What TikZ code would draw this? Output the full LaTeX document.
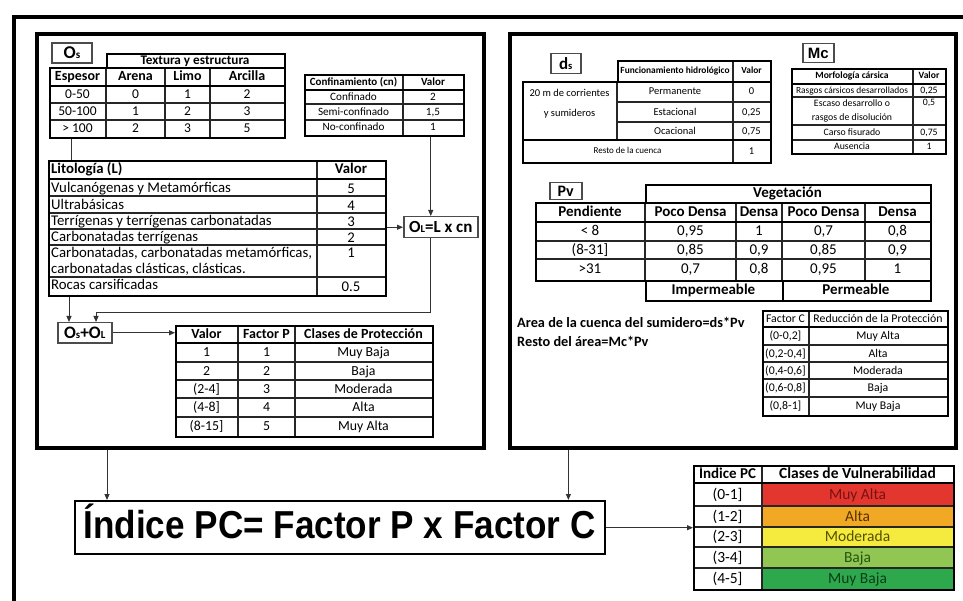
\documentclass[tikz,border=0pt]{standalone}
\usepackage{fontspec}
\setmainfont{Carlito}
\newfontfamily\arialf{Liberation Sans}
\usepackage{graphicx}
\usetikzlibrary{arrows.meta}

\definecolor{vRed}{RGB}{226,54,46}
\definecolor{vOrange}{RGB}{241,168,36}
\definecolor{vYellow}{RGB}{244,235,62}
\definecolor{vLGreen}{RGB}{145,198,82}
\definecolor{vGreen}{RGB}{46,168,76}
\definecolor{tRed}{RGB}{120,18,18}
\definecolor{tOrange}{RGB}{85,48,0}
\definecolor{tYellow}{RGB}{85,80,0}
\definecolor{tLGreen}{RGB}{35,85,20}
\definecolor{tGreen}{RGB}{10,62,25}

% font size in points (1pt = 1 unit of the picture)
\newcommand{\fsz}[1]{\fontsize{#1}{#1}\selectfont}
% small letter used as index (O_s, O_L, d_s)
\newcommand{\lsub}[1]{\scalebox{0.62}{#1}}
% invisible strut so that every cell text is centred on the same line
\newcommand{\cellstrut}{\rule[-0.25em]{0pt}{1.1em}}
% framed box given by its corners: style, name, x1, y1, x2, y2
\newcommand{\tbox}[6]{\node[#1, anchor=north west, minimum width={(#5-(#3))*1pt}, minimum height={(#6-(#4))*1pt}] (#2) at (#3,#4) {};}
% inner grid lines of the tables
\newcommand{\vln}[3]{\draw[cellline] (#1,#2) -- (#1,#3);}
\newcommand{\hln}[3]{\draw[cellline] (#2,#1) -- (#3,#1);}
\newcommand{\hlnb}[3]{\draw[hdrline] (#2,#1) -- (#3,#1);}
% text of a cell: font, name, position, text
\newcommand{\ct}[4]{\node[tcell,font=#1] (#2) at #3 {\cellstrut#4};}
\newcommand{\lt}[4]{\node[lcell,font=#1] (#2) at #3 {\cellstrut#4};}

\begin{document}
\begin{tikzpicture}[x=1pt,y=-1pt,
  tframe/.style={draw=black, line width=2.4pt, inner sep=0pt},
  cellline/.style={draw=black!85, line width=1.2pt},
  hdrline/.style={draw=black, line width=1.9pt},
  panel/.style={draw=black, line width=4pt, inner sep=0pt},
  lbl/.style={draw=black!70, line width=1.5pt, inner sep=0pt},
  tcell/.style={inner sep=0pt, anchor=center},
  lcell/.style={inner sep=0pt, anchor=west},
  conn/.style={draw=black!80, line width=1pt},
  arr/.style={conn, -{Triangle[length=6pt,width=5pt]}},
]
\useasboundingbox (0,0) rectangle (963,601);
\clip (0,0) rectangle (963,601);
\fill[white] (0,0) rectangle (963,601);

% ---------- frames ----------
\tbox{panel}{frame}{12}{15}{1010}{660}
\tbox{panel}{lpanel}{35}{32}{482}{446}
\tbox{panel}{rpanel}{508}{32}{954}{446}

% ================= LEFT PANEL =================
% O_s label
\node[lbl, minimum width=40pt, minimum height=20pt, font=\fsz{18}\bfseries] (oslbl) at (72,53) {O\lsub{s}};

% texture / thickness table
\tbox{tframe}{oshdr}{106}{53}{284}{67}
\ct{\fsz{13.2}\bfseries}{oshdrt}{(195,60.5)}{Textura y estructura}
\vln{106}{67}{137} \vln{165}{67}{137} \vln{210}{67}{137}
\hlnb{86}{49}{284} \hln{103}{49}{284} \hln{120}{49}{284}
\tbox{tframe}{ostab}{49}{67}{284}{137}
\ct{\fsz{14}\bfseries}{osh1}{(77.5,76.5)}{Espesor}
\ct{\fsz{14}\bfseries}{osh2}{(135.5,76.5)}{Arena}
\ct{\fsz{14}\bfseries}{osh3}{(187.5,76.5)}{Limo}
\ct{\fsz{14}\bfseries}{osh4}{(247,76.5)}{Arcilla}
\ct{\fsz{13.5}}{os11}{(77.5,94.5)}{0-50}
\ct{\fsz{13.5}}{os12}{(135.5,94.5)}{0}
\ct{\fsz{13.5}}{os13}{(187.5,94.5)}{1}
\ct{\fsz{13.5}}{os14}{(247,94.5)}{2}
\ct{\fsz{13.5}}{os21}{(77.5,111.5)}{50-100}
\ct{\fsz{13.5}}{os22}{(135.5,111.5)}{1}
\ct{\fsz{13.5}}{os23}{(187.5,111.5)}{2}
\ct{\fsz{13.5}}{os24}{(247,111.5)}{3}
\ct{\fsz{13.5}}{os31}{(77.5,128.5)}{> 100}
\ct{\fsz{13.5}}{os32}{(135.5,128.5)}{2}
\ct{\fsz{13.5}}{os33}{(187.5,128.5)}{3}
\ct{\fsz{13.5}}{os34}{(247,128.5)}{5}

% confinement table
\vln{403}{74}{135}
\hlnb{90}{304}{463} \hln{104}{304}{463} \hln{120}{304}{463}
\tbox{tframe}{conf}{304}{74}{463}{135}
\ct{\fsz{11}\bfseries}{cfh1}{(353.5,82)}{Confinamiento (cn)}
\ct{\fsz{11}\bfseries}{cfh2}{(433,82)}{Valor}
\ct{\fsz{11.2}}{cf11}{(353.5,97)}{Confinado}
\ct{\fsz{11.2}}{cf12}{(433,97)}{2}
\ct{\fsz{11.2}}{cf21}{(353.5,112)}{Semi-confinado}
\ct{\fsz{11.2}}{cf22}{(433,112)}{1,5}
\ct{\fsz{11.2}}{cf31}{(353.5,127.5)}{No-confinado}
\ct{\fsz{11.2}}{cf32}{(433,127.5)}{1}

% lithology table
\vln{317}{160}{295}
\hlnb{179}{48}{385} \hln{196}{48}{385} \hln{213}{48}{385}
\hln{229}{48}{385} \hln{245}{48}{385} \hln{277}{48}{385}
\tbox{tframe}{lito}{48}{160}{385}{295}
\lt{\fsz{14.8}\bfseries}{lih1}{(51,169.5)}{Litología (L)}
\ct{\fsz{14.8}\bfseries}{lih2}{(351,169.5)}{Valor}
\lt{\fsz{14.8}}{li1}{(51,188)}{Vulcanógenas y Metamórficas}
\ct{\fsz{14.8}}{lv1}{(351,189)}{5}
\lt{\fsz{14.8}}{li2}{(51,205)}{Ultrabásicas}
\ct{\fsz{14.8}}{lv2}{(351,206)}{4}
\lt{\fsz{14.8}}{li3}{(51,221.5)}{Terrígenas y terrígenas carbonatadas}
\ct{\fsz{14.8}}{lv3}{(351,222.5)}{3}
\lt{\fsz{14.8}}{li4}{(51,237.5)}{Carbonatadas terrígenas}
\ct{\fsz{14.8}}{lv4}{(351,238.5)}{2}
\lt{\fsz{14.8}}{li5a}{(51,253.5)}{Carbonatadas, carbonatadas metamórficas,}
\lt{\fsz{14.8}}{li5b}{(51,269.5)}{carbonatadas clásticas, clásticas.}
\ct{\fsz{14.8}}{lv5}{(351,253.5)}{1}
\lt{\fsz{14.8}}{li6}{(51,285.5)}{Rocas carsificadas}
\ct{\fsz{14.8}}{lv6}{(351,287)}{0.5}

% O_L box
\node[lbl, anchor=north west, minimum width=74pt, minimum height=21pt, font=\fsz{17}\bfseries] (olbox) at (403,216) {O\lsub{L}=L x cn};

% O_s + O_L box
\node[lbl, anchor=north west, minimum width=54pt, minimum height=20pt, font=\fsz{17.5}\bfseries] (ospl) at (57,322) {O\lsub{s}+O\lsub{L}};

% protection factor table
\vln{238}{325}{436} \vln{295}{325}{436}
\hlnb{343}{175}{432} \hln{362}{175}{432} \hln{380}{175}{432}
\hln{398}{175}{432} \hln{417}{175}{432}
\tbox{tframe}{ptab}{175}{325}{432}{436}
\ct{\fsz{14}\bfseries}{ph1}{(206.5,334)}{Valor}
\ct{\fsz{14}\bfseries}{ph2}{(266.5,334)}{Factor P}
\ct{\fsz{14}\bfseries}{ph3}{(363.5,334)}{Clases de Protección}
\ct{\fsz{13.8}}{pa1}{(206.5,352.5)}{1}
\ct{\fsz{13.8}}{pb1}{(266.5,352.5)}{1}
\ct{\fsz{13.8}}{pc1}{(363.5,352.5)}{Muy Baja}
\ct{\fsz{13.8}}{pa2}{(206.5,371)}{2}
\ct{\fsz{13.8}}{pb2}{(266.5,371)}{2}
\ct{\fsz{13.8}}{pc2}{(363.5,371)}{Baja}
\ct{\fsz{13.8}}{pa3}{(206.5,389)}{(2-4]}
\ct{\fsz{13.8}}{pb3}{(266.5,389)}{3}
\ct{\fsz{13.8}}{pc3}{(363.5,389)}{Moderada}
\ct{\fsz{13.8}}{pa4}{(206.5,407.5)}{(4-8]}
\ct{\fsz{13.8}}{pb4}{(266.5,407.5)}{4}
\ct{\fsz{13.8}}{pc4}{(363.5,407.5)}{Alta}
\ct{\fsz{13.8}}{pa5}{(206.5,426.5)}{(8-15]}
\ct{\fsz{13.8}}{pb5}{(266.5,426.5)}{5}
\ct{\fsz{13.8}}{pc5}{(363.5,426.5)}{Muy Alta}

% connectors of the left panel
\draw[conn] ([xshift=22pt]ostab.south west) -- ([xshift=22pt]ostab.south west |- lito.north);
\draw[arr] ([xshift=21pt]lito.south west) -- ([xshift=21pt]lito.south west |- ospl.north);
\draw[arr] (olbox.west -| lito.east) -- (olbox.west);
\draw[arr] ([xshift=-10pt]olbox.north |- conf.south) -- ([xshift=-10pt]olbox.north);
\coordinate (jn) at (96,313);
\draw[arr] ([xshift=-10pt]olbox.south) |- (jn) -- (jn |- ospl.north);
\draw[arr] (ospl.east) -- (ospl.east -| ptab.west);

% ================= RIGHT PANEL =================
% d_s label and table
\node[lbl, anchor=north west, minimum width=30pt, minimum height=20pt, font=\fsz{17}\bfseries] (dslbl) at (550,53) {d\lsub{s}};
\vln{733}{60}{81}
\tbox{tframe}{dshdr}{617}{60}{770}{81}
\ct{\fsz{9.4}\bfseries}{dsh1}{(675,70.5)}{Funcionamiento hidrológico}
\ct{\fsz{9.4}\bfseries}{dsh2}{(751.5,70.5)}{Valor}
\vln{617}{81}{140} \vln{733}{81}{162}
\hln{102}{617}{770} \hln{122}{617}{770}
\hlnb{140}{522}{770}
\tbox{tframe}{dstab}{522}{81}{770}{162}
\ct{\fsz{10.5}}{ds1a}{(569.5,93)}{20 m de corrientes}
\ct{\fsz{10.5}}{ds1b}{(569.5,113)}{y sumideros}
\ct{\fsz{10.5}}{ds21}{(675,91.5)}{Permanente}
\ct{\fsz{10.5}}{ds22}{(751.5,91.5)}{0}
\ct{\fsz{10.5}}{ds31}{(675,112)}{Estacional}
\ct{\fsz{10.5}}{ds32}{(751.5,112)}{0,25}
\ct{\fsz{10.5}}{ds41}{(675,131)}{Ocacional}
\ct{\fsz{10.5}}{ds42}{(751.5,131)}{0,75}
\ct{\fsz{9}}{ds51}{(627.5,151)}{Resto de la cuenca}
\ct{\fsz{10.5}}{ds52}{(751.5,151)}{1}

% M_c label and table
\node[lbl, anchor=north west, minimum width=31pt, minimum height=19pt, font=\arialf\bfseries\fsz{15}] (mclbl) at (802,43) {Mc};
\vln{913}{68}{153}
\hlnb{84}{791}{945} \hln{97}{791}{945} \hln{125}{791}{945} \hln{140}{791}{945}
\tbox{tframe}{mctab}{791}{68}{945}{153}
\ct{\fsz{9.6}\bfseries}{mch1}{(852,76)}{Morfología cársica}
\ct{\fsz{9.6}\bfseries}{mch2}{(929,76)}{Valor}
\ct{\fsz{9.4}}{mc11}{(852,90.5)}{Rasgos cársicos desarrollados}
\ct{\fsz{9.8}}{mc12}{(929,90.5)}{0,25}
\ct{\fsz{9.8}}{mc21a}{(852,104)}{Escaso desarrollo o}
\ct{\fsz{9.8}}{mc21b}{(852,118)}{rasgos de disolución}
\ct{\fsz{9.8}}{mc22}{(929,103)}{0,5}
\ct{\fsz{9.8}}{mc31}{(852,132.5)}{Carso fisurado}
\ct{\fsz{9.8}}{mc32}{(929,132.5)}{0,75}
\ct{\fsz{9.8}}{mc41}{(852,146.5)}{Ausencia}
\ct{\fsz{9.8}}{mc42}{(929,146.5)}{1}

% P_v label and table
\node[lbl, anchor=north west, minimum width=32pt, minimum height=17pt, font=\fsz{16}\bfseries] (pvlbl) at (549,182) {Pv};
\tbox{tframe}{veg}{645}{184}{930}{202}
\ct{\fsz{15}\bfseries}{vegt}{(787.5,193)}{Vegetación}
\vln{645}{202}{280} \vln{736}{202}{280} \vln{782}{202}{280} \vln{865}{202}{280}
\hlnb{222}{535}{930} \hln{241}{535}{930} \hln{259}{535}{930}
\tbox{tframe}{pvtab}{535}{202}{930}{280}
\ct{\fsz{15}\bfseries}{pvh1}{(590,212)}{Pendiente}
\ct{\fsz{15}\bfseries}{pvh2}{(690.5,212)}{Poco Densa}
\ct{\fsz{15}\bfseries}{pvh3}{(759,212)}{Densa}
\ct{\fsz{15}\bfseries}{pvh4}{(823.5,212)}{Poco Densa}
\ct{\fsz{15}\bfseries}{pvh5}{(897.5,212)}{Densa}
\ct{\fsz{15}}{pv11}{(590,231.5)}{< 8}
\ct{\fsz{15}}{pv12}{(690.5,231.5)}{0,95}
\ct{\fsz{15}}{pv13}{(759,231.5)}{1}
\ct{\fsz{15}}{pv14}{(823.5,231.5)}{0,7}
\ct{\fsz{15}}{pv15}{(897.5,231.5)}{0,8}
\ct{\fsz{15}}{pv21}{(590,250)}{(8-31]}
\ct{\fsz{15}}{pv22}{(690.5,250)}{0,85}
\ct{\fsz{15}}{pv23}{(759,250)}{0,9}
\ct{\fsz{15}}{pv24}{(823.5,250)}{0,85}
\ct{\fsz{15}}{pv25}{(897.5,250)}{0,9}
\ct{\fsz{15}}{pv31}{(590,269.5)}{>31}
\ct{\fsz{15}}{pv32}{(690.5,269.5)}{0,7}
\ct{\fsz{15}}{pv33}{(759,269.5)}{0,8}
\ct{\fsz{15}}{pv34}{(823.5,269.5)}{0,95}
\ct{\fsz{15}}{pv35}{(897.5,269.5)}{1}
\tbox{tframe}{imp}{645}{280}{782}{300}
\tbox{tframe}{perm}{782}{280}{930}{300}
\ct{\fsz{15}\bfseries}{impt}{(713.5,290)}{Impermeable}
\ct{\fsz{15}\bfseries}{permt}{(856,290)}{Permeable}

% area formulas
\lt{\fsz{14.3}\bfseries}{area1}{(517,323)}{Area de la cuenca del sumidero=ds*Pv}
\lt{\fsz{14.3}\bfseries}{area2}{(517,342)}{Resto del área=Mc*Pv}

% factor C table
\vln{809}{310}{415}
\hlnb{327}{762}{947} \hln{345}{762}{947} \hln{362}{762}{947}
\hln{379}{762}{947} \hln{397}{762}{947}
\tbox{tframe}{ctab}{762}{310}{947}{415}
\ct{\fsz{11.8}}{ch1}{(785.5,318.5)}{Factor C}
\ct{\fsz{11.8}}{ch2}{(878,318.5)}{Reducción de la Protección}
\ct{\fsz{11.8}}{ca1}{(785.5,336)}{(0-0,2]}
\ct{\fsz{11.8}}{cb1}{(878,336)}{Muy Alta}
\ct{\fsz{11.8}}{ca2}{(785.5,353.5)}{(0,2-0,4]}
\ct{\fsz{11.8}}{cb2}{(878,353.5)}{Alta}
\ct{\fsz{11.8}}{ca3}{(785.5,370.5)}{(0,4-0,6]}
\ct{\fsz{11.8}}{cb3}{(878,370.5)}{Moderada}
\ct{\fsz{11.8}}{ca4}{(785.5,388)}{(0,6-0,8]}
\ct{\fsz{11.8}}{cb4}{(878,388)}{Baja}
\ct{\fsz{11.8}}{ca5}{(785.5,406)}{(0,8-1]}
\ct{\fsz{11.8}}{cb5}{(878,406)}{Muy Baja}

% ================= BOTTOM =================
\tbox{tframe}{idx}{74}{500}{604}{553}
\node[anchor=base, inner sep=0pt, font=\arialf\bfseries\fsz{39}] (idxt) at (339.5,538) {\scalebox{0.9}[1]{Índice PC= Factor P x Factor C}};

% vulnerability classes
\fill[vRed]    (762,483) rectangle (953,506);
\fill[vOrange] (762,506) rectangle (953,527);
\fill[vYellow] (762,527) rectangle (953,547);
\fill[vLGreen] (762,547) rectangle (953,568);
\fill[vGreen]  (762,568) rectangle (953,589);
\vln{762}{465}{589}
\hlnb{483}{693}{953} \hln{506}{693}{953} \hln{527}{693}{953}
\hln{547}{693}{953} \hln{568}{693}{953}
\tbox{tframe}{vtab}{693}{465}{953}{589}
\ct{\fsz{15}\bfseries}{vh1}{(727.5,474)}{Índice PC}
\ct{\fsz{15.5}\bfseries}{vh2}{(857.5,474)}{Clases de Vulnerabilidad}
\ct{\fsz{15.5}}{va1}{(727.5,494.5)}{(0-1]}
\ct{\fsz{15.5}\color{tRed}}{vb1}{(857.5,494.5)}{Muy Alta}
\ct{\fsz{15.5}}{va2}{(727.5,516.5)}{(1-2]}
\ct{\fsz{15.5}\color{tOrange}}{vb2}{(857.5,516.5)}{Alta}
\ct{\fsz{15.5}}{va3}{(727.5,537)}{(2-3]}
\ct{\fsz{15.5}\color{tYellow}}{vb3}{(857.5,537)}{Moderada}
\ct{\fsz{15.5}}{va4}{(727.5,557.5)}{(3-4]}
\ct{\fsz{15.5}\color{tLGreen}}{vb4}{(857.5,557.5)}{Baja}
\ct{\fsz{15.5}}{va5}{(727.5,578.5)}{(4-5]}
\ct{\fsz{15.5}\color{tGreen}}{vb5}{(857.5,578.5)}{Muy Baja}

% connectors towards the index and the classes
\draw[arr] ([xshift=33pt]idx.north west |- lpanel.south) -- ([xshift=33pt]idx.north west);
\draw[arr] ([xshift=-38pt]idx.north east |- rpanel.south) -- ([xshift=-38pt]idx.north east);
\draw[arr] (idx.east) -- (idx.east -| vtab.west);
\end{tikzpicture}
\end{document}
